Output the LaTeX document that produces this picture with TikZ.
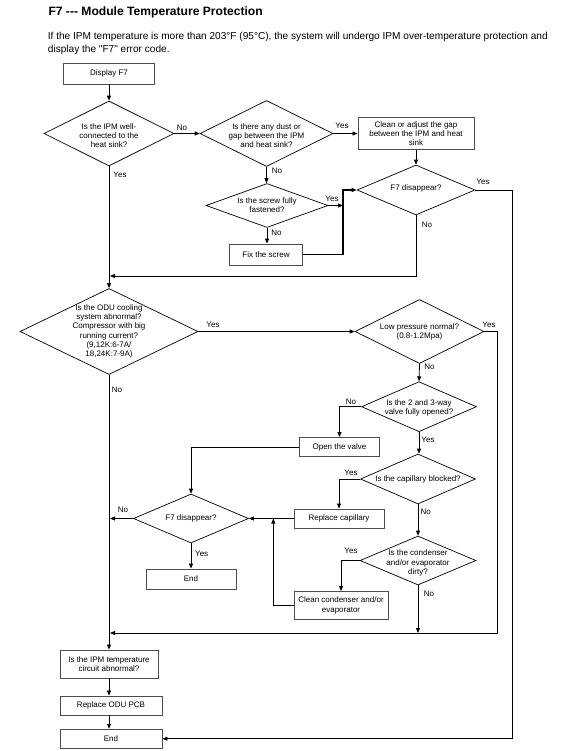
\documentclass[tikz,border=0pt]{standalone}
\usepackage{fontspec}
\setmainfont{Liberation Sans}[Ligatures=TeXOff]
\usetikzlibrary{shapes.geometric,arrows.meta}
\begin{document}
\begin{tikzpicture}[x=1pt,y=-1pt,
  every node/.style={font=\fontsize{8}{9.2}\selectfont},
  box/.style={draw=black!70, line width=0.9pt, rectangle, inner sep=0pt, align=center},
  dia/.style={draw, line width=0.7pt, diamond, inner sep=0pt},
  dtext/.style={align=center, inner sep=0pt},
  lab/.style={inner sep=0pt},
  arr/.style={-{Triangle[length=5pt,width=4pt]}, line width=0.8pt},
]
\useasboundingbox (0,0) rectangle (583,751);

% header
\node[anchor=base west, inner sep=0pt, font=\fontsize{12.1}{14}\selectfont\bfseries] (title) at (48.3,16) {F7 --- Module Temperature Protection};
\node[anchor=base west, inner sep=0pt, font=\fontsize{10.1}{12}\selectfont] (p1) at (47.7,39.3) {If the IPM temperature is more than 203°F (95°C), the system will undergo IPM over-temperature protection and};
\node[anchor=base west, inner sep=0pt, font=\fontsize{10.1}{12}\selectfont] (p2) at (47.7,52.8) {display the "F7" error code.};

% nodes
\node[box, minimum width=91, minimum height=21] (disp) at (109,73.5) {Display F7};

\node[dia, minimum width=130, minimum height=65] (d1) at (109,133.5) {};
\node[dtext] (d1t) at (109,135.5) {Is the IPM well-\\connected to the\\heat sink?};

\node[dia, minimum width=133, minimum height=66] (d2) at (266.5,133.5) {};
\node[dtext] (d2t) at (266.5,135.5) {Is there any dust or\\gap between the IPM\\and heat sink?};

\node[box, minimum width=116, minimum height=32] (clean1) at (416,133.5) {Clean or adjust the gap\\between the IPM and heat\\sink};

\node[dia, minimum width=118, minimum height=50] (f7a) at (416,190) {};
\node[dtext] (f7at) at (416,188.5) {F7 disappear?};

\node[dia, minimum width=122, minimum height=44] (screw) at (267,205.5) {};
\node[dtext] (screwt) at (267,205.5) {Is the screw fully\\fastened?};

\node[box, minimum width=73, minimum height=21] (fix) at (266,254.5) {Fix the screw};

\node[dia, minimum width=178, minimum height=86] (odu) at (109,331.5) {};
\node[dtext] (odut) at (109,331.5) {Is the ODU cooling\\system abnormal?\\Compressor with big\\running current?\\(9,12K:6-7A/\\18,24K:7-9A)};

\node[dia, minimum width=129, minimum height=64] (low) at (419.5,331.5) {};
\node[dtext] (lowt) at (419.5,332) {Low pressure normal?\\(0.8-1.2Mpa)};

\node[dia, minimum width=115, minimum height=50] (valve) at (419,406.7) {};
\node[dtext] (valvet) at (419,408) {Is the 2 and 3-way\\valve fully opened?};

\node[box, minimum width=80, minimum height=19] (open) at (339.5,447) {Open the valve};

\node[dia, minimum width=115, minimum height=50] (cap) at (418,479) {};
\node[dtext] (capt) at (418,479) {Is the capillary blocked?};

\node[box, minimum width=90, minimum height=19] (repcap) at (339,518.5) {Replace capillary};

\node[dia, minimum width=116, minimum height=49] (cond) at (418,560.5) {};
\node[dtext] (condt) at (418,563) {Is the condenser\\and/or evaporator\\dirty?};

\node[box, minimum width=94, minimum height=28] (clean2) at (341,605.5) {Clean condenser and/or\\evaporator};

\node[dia, minimum width=115, minimum height=49] (f7b) at (191,518.5) {};
\node[dtext] (f7bt) at (191,518.5) {F7 disappear?};

\node[box, minimum width=90, minimum height=20] (end1) at (191,579) {End};

\node[box, minimum width=98, minimum height=28] (ipm) at (109,664) {Is the IPM temperature\\circuit abnormal?};
\node[box, minimum width=102, minimum height=19] (pcb) at (111,705.5) {Replace ODU PCB};
\node[box, minimum width=102, minimum height=19] (end2) at (111,738.7) {End};

% junction coordinates
\coordinate (jx) at (343,205.5);
\coordinate (jy) at (343,190);
\coordinate (m1) at (110,276);
\coordinate (rc) at (512,738.7);
\coordinate (rb) at (497,633);
\coordinate (m2) at (110,633);
\coordinate (ju) at (273.3,518.5);
\coordinate (jd) at (418,633);
\coordinate (m3) at (110,518.5);

% connectors
\draw[arr] (disp.south) -- (d1.north);
\draw[arr] (d1.east) -- (d2.west);
\draw[arr] (d2.east) -- (clean1.west);
\draw[arr] (clean1.south) -- (f7a.north);
\draw[arr] (d2.south) -- (d2.south |- screw.north);
\draw[arr] (screw.south) -- (screw.south |- fix.north);
\draw[arr] (screw.east) -- (jx);
\draw[arr, line width=1.2pt] (fix.east) -| (jy) -- (f7a.west);
\draw[arr] (f7a.south) |- (m1);
\draw[arr] (f7a.east) -| (rc) -- (end2.east);
\draw[arr] (d1.south) -- (odu.north);
\draw[arr] (odu.east) -- (low.west);
\draw[arr] (low.east) -| (rb) -- (m2);
\draw[arr] (low.south) -- (valve.north);
\draw[arr] (valve.west) -| (open.north);
\draw[arr] (open.west) -| (f7b.north);
\draw[arr] (valve.south) -- (valve.south |- cap.north);
\draw[arr] (cap.west) -| (repcap.north);
\draw[arr] (repcap.west) -- (f7b.east);
\draw[arr] (cap.south) -- (cond.north);
\draw[arr] (cond.west) -| (clean2.north);
\draw[arr] (clean2.west) -| (ju);
\draw[arr] (cond.south) -- (jd);
\draw[arr] (f7b.west) -- (m3);
\draw[arr] (f7b.south) -- (end1.north);
\draw[arr] (odu.south) -- (ipm.north);
\draw[arr] (ipm.south) -- (ipm.south |- pcb.north);
\draw[arr] (ipm.south |- pcb.south) -- (ipm.south |- end2.north);

% labels
\node[lab] (l1) at (182,128) {No};
\node[lab] (l2) at (120,175) {Yes};
\node[lab] (l3) at (342,126) {Yes};
\node[lab] (l4) at (277,171) {No};
\node[lab] (l5) at (276.5,232.7) {No};
\node[lab] (l6) at (332,199) {Yes};
\node[lab] (l7) at (483,182) {Yes};
\node[lab] (l8) at (427,225) {No};
\node[lab] (l9) at (213,325) {Yes};
\node[lab] (l10) at (117,390) {No};
\node[lab] (l11) at (489,325) {Yes};
\node[lab] (l12) at (429.5,366.7) {No};
\node[lab] (l13) at (351,401.7) {No};
\node[lab] (l14) at (428,439.3) {Yes};
\node[lab] (l15) at (351,472.3) {Yes};
\node[lab] (l16) at (425.7,511.7) {No};
\node[lab] (l17) at (351,550.7) {Yes};
\node[lab] (l18) at (429,594) {No};
\node[lab] (l19) at (123,509.3) {No};
\node[lab] (l20) at (201.7,554) {Yes};
\end{tikzpicture}
\end{document}
